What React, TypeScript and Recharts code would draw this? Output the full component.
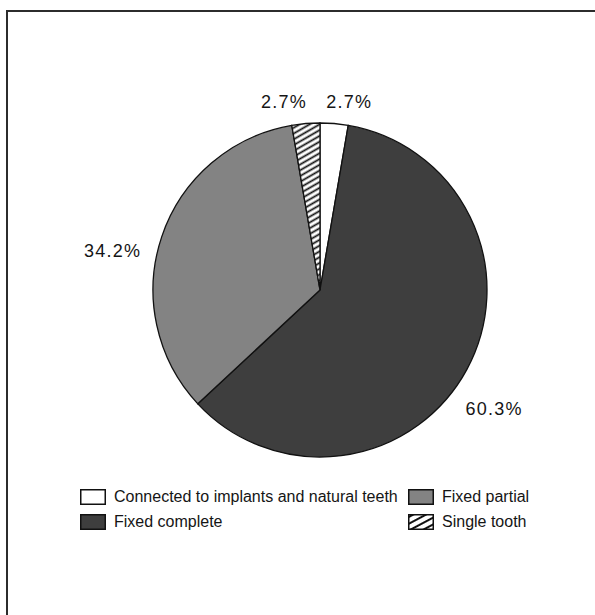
import React from 'react';
import { PieChart, Pie, Cell } from 'recharts';

// Restoration types and their share of cases (%)
const categories = [
  'Connected to implants and natural teeth',
  'Fixed complete',
  'Fixed partial',
  'Single tooth',
];
const shares = [2.7, 60.3, 34.2, 2.7];

// Legend order, laid out as two columns
const legendColumns = [
  ['Connected to implants and natural teeth', 'Fixed complete'],
  ['Fixed partial', 'Single tooth'],
];

const data = categories.map((name, i) => ({ name, value: shares[i] }));

const FILLS: Record<string, string> = {
  'Connected to implants and natural teeth': '#ffffff',
  'Fixed complete': '#3e3e3e',
  'Fixed partial': '#838383',
  'Single tooth': 'url(#hatch)',
};

// Label nudges: clockwise angle shift (deg) from the slice middle and distance from centre
const LABEL_PLACEMENT: Record<string, { shift: number; dist: number }> = {
  'Connected to implants and natural teeth': { shift: 4, dist: 190 },
  'Fixed complete': { shift: 6, dist: 211 },
  'Fixed partial': { shift: -8, dist: 211 },
  'Single tooth': { shift: -6, dist: 191 },
};

const FONT = '"Liberation Sans", Arial, Helvetica, sans-serif';
const RAD = Math.PI / 180;

const renderLabel = (props: any) => {
  const { cx, cy, midAngle, payload, value } = props;
  const place = LABEL_PLACEMENT[payload.name];
  const a = (midAngle - place.shift) * RAD;
  const x = cx + place.dist * Math.cos(a);
  const y = cy - place.dist * Math.sin(a);
  return (
    <text
      x={x}
      y={y}
      textAnchor="middle"
      dominantBaseline="central"
      fontFamily={FONT}
      fontSize={18}
      letterSpacing={1.2}
      fill="#151515"
    >
      {`${Number(value).toFixed(1)}%`}
    </text>
  );
};

const Swatch = ({ name }: { name: string }) => (
  <svg width={26} height={16} style={{ display: 'block' }}>
    <defs>
      <pattern
        id="hatchSmall"
        patternUnits="userSpaceOnUse"
        width={6}
        height={6}
        patternTransform="rotate(-28)"
      >
        <rect width={6} height={6} fill="#fff" />
        <line x1={0} y1={3} x2={6} y2={3} stroke="#111" strokeWidth={2} />
      </pattern>
    </defs>
    <rect
      x={0.75}
      y={0.75}
      width={24.5}
      height={14.5}
      fill={name === 'Single tooth' ? 'url(#hatchSmall)' : FILLS[name]}
      stroke="#111"
      strokeWidth={1.5}
    />
  </svg>
);

const columnLeft = [80, 408];

export default function App() {
  return (
    <div
      style={{
        position: 'absolute',
        left: 0,
        top: 0,
        width: 595,
        height: 615,
        background: '#fff',
        overflow: 'hidden',
      }}
    >
      {/* frame */}
      <div
        style={{
          position: 'absolute',
          left: 6,
          top: 10,
          width: 600,
          height: 620,
          borderTop: '2px solid #2c2c2c',
          borderLeft: '2px solid #2c2c2c',
        }}
      />
      <div style={{ position: 'absolute', left: 0, top: 0 }}>
        <PieChart width={595} height={615} margin={{ top: 0, right: 0, bottom: 0, left: 0 }}>
          <defs>
            <pattern
              id="hatch"
              patternUnits="userSpaceOnUse"
              width={5}
              height={5}
              patternTransform="rotate(-30)"
            >
              <rect width={5} height={5} fill="#fff" />
              <line x1={0} y1={2.5} x2={5} y2={2.5} stroke="#111" strokeWidth={1.8} />
            </pattern>
          </defs>
          <Pie
            data={data}
            dataKey="value"
            nameKey="name"
            cx={320}
            cy={290}
            outerRadius={167}
            startAngle={90}
            endAngle={-270}
            stroke="#111"
            strokeWidth={1.3}
            label={renderLabel}
            labelLine={false}
            isAnimationActive={false}
          >
            {data.map((d) => (
              <Cell key={d.name} fill={FILLS[d.name]} />
            ))}
          </Pie>
        </PieChart>
      </div>
      {/* legend */}
      {legendColumns.map((col, ci) =>
        col.map((name, ri) => (
          <div
            key={name}
            style={{
              position: 'absolute',
              left: columnLeft[ci],
              top: 489 + ri * 25,
              height: 16,
              display: 'flex',
              alignItems: 'center',
              fontFamily: FONT,
              fontSize: 16,
              color: '#151515',
              whiteSpace: 'nowrap',
            }}
          >
            <Swatch name={name} />
            <span style={{ marginLeft: 8 }}>{name}</span>
          </div>
        ))
      )}
    </div>
  );
}
